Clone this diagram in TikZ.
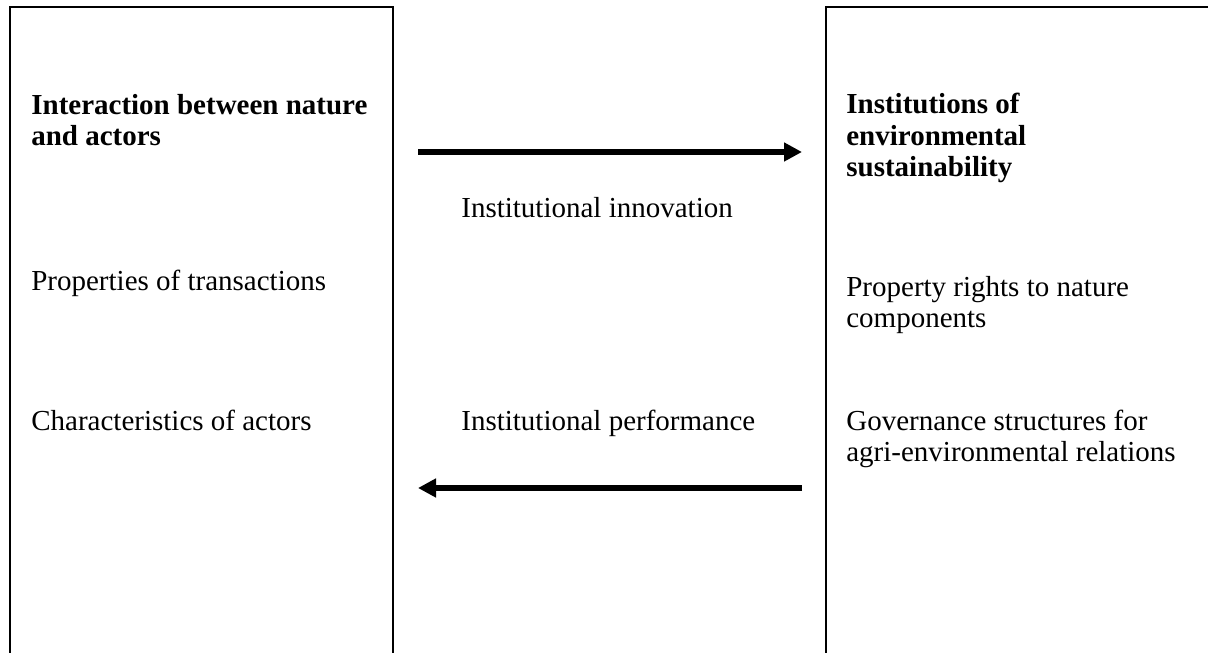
\documentclass[tikz,border=0pt]{standalone}
\usepackage{fontspec}
\setmainfont{Liberation Serif}
\usetikzlibrary{arrows.meta}

\tikzset{
	lbl/.style={anchor=base west, inner sep=0pt, align=left, font=\fontsize{16.5}{18.2}\selectfont},
	boxline/.style={line width=0.7pt},
	flow/.style={line width=3.2pt, -{Triangle[length=0.36cm,width=0.36cm]}}
}

\begin{document}
\begin{tikzpicture}
		\useasboundingbox (0,0) rectangle (24.16,-13.06) ;

		% the two boxes, open at the bottom
		\draw[boxline] (0.2,-13.06) -- (0.2,-0.14) -- (7.86,-0.14) -- (7.86,-13.06) ;
		\draw[boxline] (16.52,-13.06) -- (16.52,-0.14) -- (24.16,-0.14) ;

		% left box
		\node[lbl] (interaction) at (0.62,-2.92) {\bfseries Interaction between nature\\\bfseries and actors} ;
		\node[lbl] (properties) at (0.62,-5.82) {Properties of transactions} ;
		\node[lbl] (characteristics) at (0.62,-8.62) {Characteristics of actors} ;

		% right box
		\node[lbl] (institutions) at (16.92,-3.54) {\bfseries Institutions of\\\bfseries environmental\\\bfseries sustainability} ;
		\node[lbl] (rights) at (16.92,-6.56) {Property rights to nature\\components} ;
		\node[lbl] (governance) at (16.92,-9.24) {Governance structures for\\agri-environmental relations} ;

		% middle
		\node[lbl] (innovation) at (9.22,-4.36) {Institutional innovation} ;
		\node[lbl] (performance) at (9.22,-8.62) {Institutional performance} ;

		\coordinate (innovL) at (8.36,-3.04) ;
		\coordinate (innovR) at (16.04,-3.04) ;
		\coordinate (perfL) at (8.36,-9.76) ;
		\coordinate (perfR) at (16.04,-9.76) ;

		\draw[flow] (innovL) -- (innovR) ;
		\draw[flow] (perfR) -- (perfL) ;
	\end{tikzpicture}
\end{document}
